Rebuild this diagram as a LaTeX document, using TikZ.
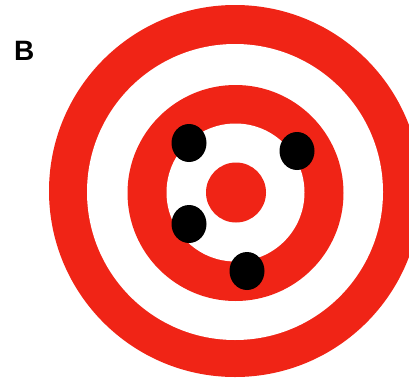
\documentclass[tikz,border=0pt]{standalone}
\usepackage{fontspec}
\setsansfont{Liberation Sans}
\usepackage{tikz}
\usetikzlibrary{positioning}
\definecolor{targetred}{RGB}{240,36,22}

\begin{document}
\begin{tikzpicture}[x=1pt,y=-1pt]
\useasboundingbox (0,0) rectangle (409,380);
\clip (0,0) rectangle (409,380);
\fill[white] (0,0) rectangle (409,380);
\fill[targetred] (235,191) circle (186);
\fill[white] (235,192) circle (148);
\fill[targetred] (235.5,193) circle (108);
\fill[white] (235.5,192.5) circle (69);
\fill[targetred] (236,192.5) circle (30);
\fill[black] (189,143) ellipse (17.5 and 19);
\fill[black] (297,151) ellipse (17.5 and 19);
\fill[black] (189,224) ellipse (17.5 and 19);
\fill[black] (247,271) ellipse (17.5 and 19);
\node[font=\sffamily\bfseries\fontsize{28}{30}\selectfont,inner sep=0pt,anchor=south west] (label) at (14,61) {B};
\end{tikzpicture}
\end{document}
